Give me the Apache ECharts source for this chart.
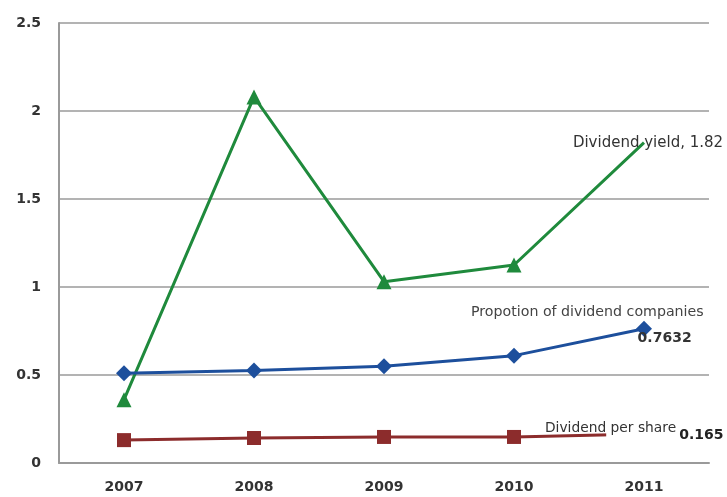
<!DOCTYPE html>
<html>
<head>
<meta charset="utf-8">
<script src="https://cdn.jsdelivr.net/npm/echarts@6/dist/echarts.min.js"></script>
<style>
  html, body { margin: 0; padding: 0; background: #fff; }
  #chart { width: 727px; height: 497px; }
</style>
</head>
<body>
<div id="chart"></div>
<script>
// Dividend indicators by year
const years = ['2007', '2008', '2009', '2010', '2011'];
const dividendYield = [0.36, 2.08, 1.03, 1.125, 1.82];
const proportionCompanies = [0.51, 0.525, 0.55, 0.61, 0.7632];
const dividendPerShare = [0.13, 0.142, 0.148, 0.148, 0.165];
const yTicks = { min: 0, max: 2.5, interval: 0.5 };

const FONT = '"DejaVu Sans", "Open Sans", sans-serif';
const GREEN = '#1f8a3c';
const BLUE = '#1d4f9c';
const RED = '#8c2c2c';

const chart = echarts.init(document.getElementById('chart'));

// Only the final point of each series carries a label
function lastLabelled(values, label, extra) {
  return values.map((v, i) => {
    if (i !== values.length - 1) return v;
    return Object.assign({ value: v, label: Object.assign({ show: true }, label) }, extra || {});
  });
}

const axisText = { color: '#333', fontFamily: FONT, fontWeight: 'bold', fontSize: 14 };

chart.setOption({
  animation: false,
  grid: { left: 59, right: 18, top: 23, bottom: 34 },
  xAxis: {
    type: 'category',
    data: years,
    boundaryGap: true,
    axisLine: { show: true, lineStyle: { color: '#9a9a9a', width: 2 } },
    axisTick: { show: false },
    axisLabel: Object.assign({ margin: 17 }, axisText)
  },
  yAxis: {
    type: 'value',
    min: yTicks.min, max: yTicks.max, interval: yTicks.interval,
    axisLine: { show: true, lineStyle: { color: '#9a9a9a', width: 2 } },
    axisTick: { show: false },
    splitLine: { show: true, lineStyle: { color: '#9a9a9a', width: 1.5 } },
    axisLabel: Object.assign({ margin: 18 }, axisText)
  },
  series: [
    {
      name: 'Dividend yield',
      type: 'line',
      data: lastLabelled(dividendYield, {
        position: 'inside',
        offset: [4, 0],
        formatter: 'Dividend yield, {c}',
        color: '#333',
        fontFamily: FONT,
        fontSize: 15
      }, { itemStyle: { color: 'rgba(0,0,0,0)' } }),
      symbol: 'triangle',
      symbolSize: 15,
      lineStyle: { color: GREEN, width: 3 },
      itemStyle: { color: GREEN },
      z: 3
    },
    {
      name: 'Propotion of dividend companies',
      type: 'line',
      data: lastLabelled(proportionCompanies, {
        position: [-165, -16],
        align: 'left',
        verticalAlign: 'top',
        formatter: '{a|Propotion of dividend companies}\n{b|{c}}',
        rich: {
          a: { color: '#444', fontFamily: FONT, fontSize: 14.2, lineHeight: 16, align: 'left' },
          b: { color: '#333', fontFamily: FONT, fontSize: 14, fontWeight: 'bold', lineHeight: 36, align: 'right', padding: [0, 12, 0, 0] }
        }
      }),
      symbol: 'diamond',
      symbolSize: 16,
      lineStyle: { color: BLUE, width: 3 },
      itemStyle: { color: BLUE },
      z: 4
    },
    {
      name: 'Dividend per share',
      type: 'line',
      data: lastLabelled(dividendPerShare, {
        position: [-92, 1],
        align: 'left',
        verticalAlign: 'middle',
        formatter: '{a|Dividend}{b| per share}{c|{c}}',
        rich: {
          a: { color: '#333', fontFamily: FONT, fontSize: 13.8 },
          b: { color: '#333', fontFamily: FONT, fontSize: 13.8, backgroundColor: '#fff', padding: [6, 3, 6, 0] },
          c: { color: '#222', fontFamily: FONT, fontSize: 14, fontWeight: 'bold', backgroundColor: '#fff', padding: [14, 0, 0, 0] }
        }
      }, { itemStyle: { color: 'rgba(0,0,0,0)' } }),
      symbol: 'rect',
      symbolSize: 14,
      lineStyle: { color: RED, width: 3 },
      itemStyle: { color: RED },
      z: 2
    }
  ]
});
</script>
</body>
</html>
